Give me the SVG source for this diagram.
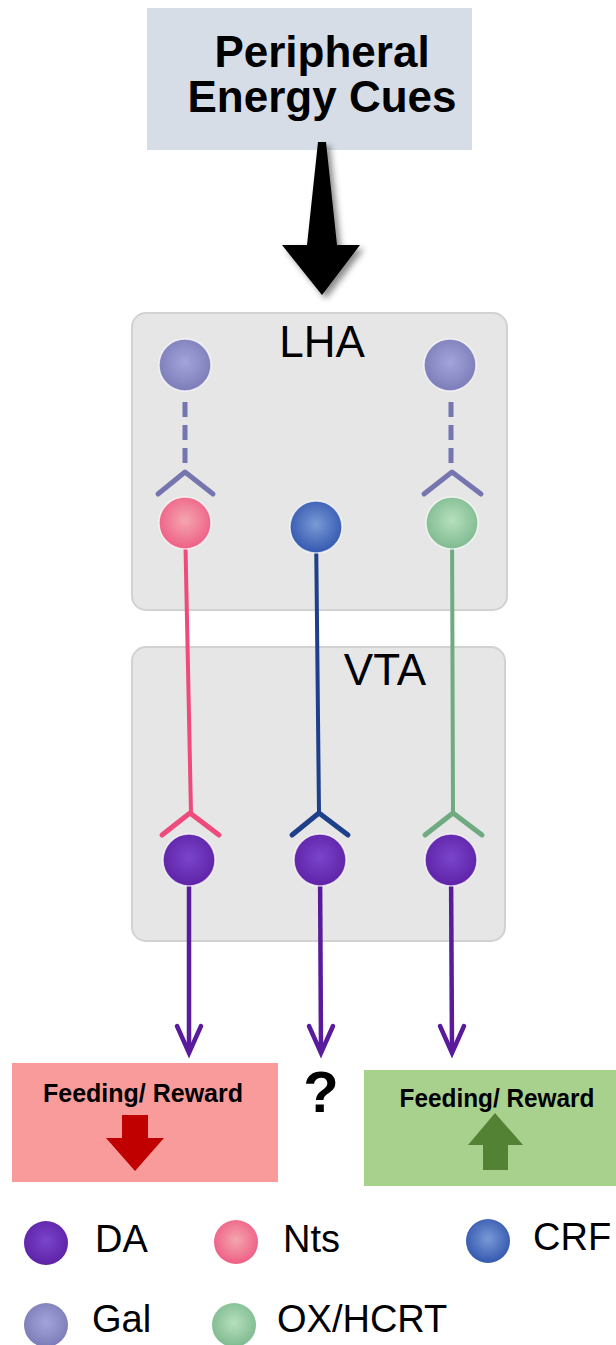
<svg xmlns="http://www.w3.org/2000/svg" width="616" height="1345" viewBox="0 0 616 1345">
<style>
.t{font-family:"Liberation Sans",Arial,sans-serif;fill:#000}
.b{font-weight:bold}
.region{fill:#e6e6e6;stroke:#d2d2d2;stroke-width:2}
.chev{fill:none;stroke-width:5;stroke-linecap:round;stroke-linejoin:round}
.axon{fill:none;stroke-width:4;stroke-linecap:round}
.out{fill:none;stroke:#5a1a9c;stroke-width:4.5;stroke-linecap:round;stroke-linejoin:miter}
.halo{stroke:#ffffff;stroke-opacity:0.7;stroke-width:1.5}
</style>
<defs>
<radialGradient id="gDA" cx="50%" cy="45%" r="55%"><stop offset="0" stop-color="#7a45cc"/><stop offset="1" stop-color="#5e22a6"/></radialGradient>
<radialGradient id="gNts" cx="50%" cy="45%" r="55%"><stop offset="0" stop-color="#f4a6ae"/><stop offset="1" stop-color="#ee5f86"/></radialGradient>
<radialGradient id="gCRF" cx="50%" cy="45%" r="55%"><stop offset="0" stop-color="#7a9ad6"/><stop offset="1" stop-color="#3458b0"/></radialGradient>
<radialGradient id="gGal" cx="50%" cy="45%" r="55%"><stop offset="0" stop-color="#a4a4dc"/><stop offset="1" stop-color="#7c7cb8"/></radialGradient>
<radialGradient id="gOX" cx="50%" cy="45%" r="55%"><stop offset="0" stop-color="#b6e0bc"/><stop offset="1" stop-color="#7fba90"/></radialGradient>
<filter id="shadow" x="-30%" y="-10%" width="160%" height="130%"><feDropShadow dx="4" dy="4" stdDeviation="3" flood-color="#000" flood-opacity="0.45"/></filter>
</defs>

<g id="cues">
<rect x="147" y="8" width="325" height="142" fill="#d6dde7"/>
<text class="t b" x="322" y="67" font-size="44" text-anchor="middle">Peripheral</text>
<text class="t b" x="322" y="112" font-size="44" text-anchor="middle">Energy Cues</text>
</g>

<g id="bigArrow">
<polygon points="318,142 326,142 337,245 360,245 322,295 282,245 307,245" fill="#000" filter="url(#shadow)"/>
</g>

<g id="LHA">
<rect class="region" x="132" y="313" width="375" height="297" rx="14"/>
<text class="t" x="322" y="357" font-size="44" text-anchor="middle">LHA</text>
</g>

<g id="VTA">
<rect class="region" x="132" y="647" width="373" height="294" rx="14"/>
<text class="t" x="385" y="685" font-size="44" text-anchor="middle">VTA</text>
</g>

<g id="connectors">
<!-- Gal dashed projections -->
<line x1="185" y1="402" x2="185" y2="464" stroke="#7575b0" stroke-width="5" stroke-dasharray="15 8"/>
<line x1="451" y1="402" x2="451" y2="464" stroke="#7575b0" stroke-width="5" stroke-dasharray="15 8"/>
<path class="chev" stroke="#7575b0" d="M158,494 L185,472 L213,494"/>
<path class="chev" stroke="#7575b0" d="M424,494 L452,472 L481,494"/>
<!-- LHA to VTA axons -->
<line class="axon" stroke="#ee4b7c" x1="185" y1="523" x2="191" y2="813"/>
<line class="axon" stroke="#1e3f8a" x1="316" y1="527" x2="319" y2="813"/>
<line class="axon" stroke="#6faa80" x1="452" y1="523" x2="453" y2="813"/>
<path class="chev" stroke="#ee4b7c" d="M162,835 L190,813 L219,835"/>
<path class="chev" stroke="#1e3f8a" d="M292,835 L319,813 L348,835"/>
<path class="chev" stroke="#6faa80" d="M425,835 L453,813 L482,835"/>
<!-- DA outputs -->
<line class="out" x1="189" y1="860" x2="189" y2="1052"/>
<line class="out" x1="320" y1="860" x2="321" y2="1052"/>
<line class="out" x1="451" y1="860" x2="452" y2="1052"/>
<path class="out" d="M177,1026 L189,1053 L201,1026"/>
<path class="out" d="M309,1026 L321,1053 L333,1026"/>
<path class="out" d="M440,1026 L452,1053 L464,1026"/>
</g>

<g id="galL"><circle class="halo" cx="185" cy="365" r="26" fill="url(#gGal)"/></g>
<g id="galR"><circle class="halo" cx="450" cy="365" r="26" fill="url(#gGal)"/></g>
<g id="nts"><circle class="halo" cx="185" cy="523" r="26" fill="url(#gNts)"/></g>
<g id="crf"><circle class="halo" cx="316" cy="527" r="26" fill="url(#gCRF)"/></g>
<g id="ox"><circle class="halo" cx="452" cy="523" r="26" fill="url(#gOX)"/></g>
<g id="daL"><circle class="halo" cx="189" cy="860" r="26" fill="url(#gDA)"/></g>
<g id="daM"><circle class="halo" cx="320" cy="860" r="26" fill="url(#gDA)"/></g>
<g id="daR"><circle class="halo" cx="451" cy="860" r="26" fill="url(#gDA)"/></g>

<g id="feedDown">
<rect x="12" y="1063" width="266" height="119" fill="#fa9b9b"/>
<text class="t b" x="143" y="1102" font-size="25" text-anchor="middle" textLength="200" lengthAdjust="spacingAndGlyphs" fill="#1a1a1a">Feeding/ Reward</text>
<polygon points="122,1115 148,1115 148,1138 164,1138 135,1171 106,1138 122,1138" fill="#c00000"/>
</g>

<g id="unknown">
<text class="t b" x="321" y="1112" font-size="58" text-anchor="middle">?</text>
</g>

<g id="feedUp">
<rect x="364" y="1070" width="252" height="116" fill="#a9d18e"/>
<text class="t b" x="497" y="1107" font-size="25" text-anchor="middle" textLength="195" lengthAdjust="spacingAndGlyphs" fill="#1a1a1a">Feeding/ Reward</text>
<polygon points="495,1113 523,1145 508,1145 508,1170 483,1170 483,1145 468,1145" fill="#548235"/>
</g>

<g id="legend">
<circle cx="46" cy="1243" r="22" fill="url(#gDA)"/>
<text class="t" x="95" y="1252" font-size="38">DA</text>
<circle cx="236" cy="1242" r="22" fill="url(#gNts)"/>
<text class="t" x="283" y="1252" font-size="38">Nts</text>
<circle cx="488" cy="1241" r="22" fill="url(#gCRF)"/>
<text class="t" x="533" y="1250" font-size="38">CRF</text>
<circle cx="46" cy="1325" r="22" fill="url(#gGal)"/>
<text class="t" x="92" y="1332" font-size="38">Gal</text>
<circle cx="234" cy="1325" r="22" fill="url(#gOX)"/>
<text class="t" x="277" y="1332" font-size="38">OX/HCRT</text>
</g>
</svg>
